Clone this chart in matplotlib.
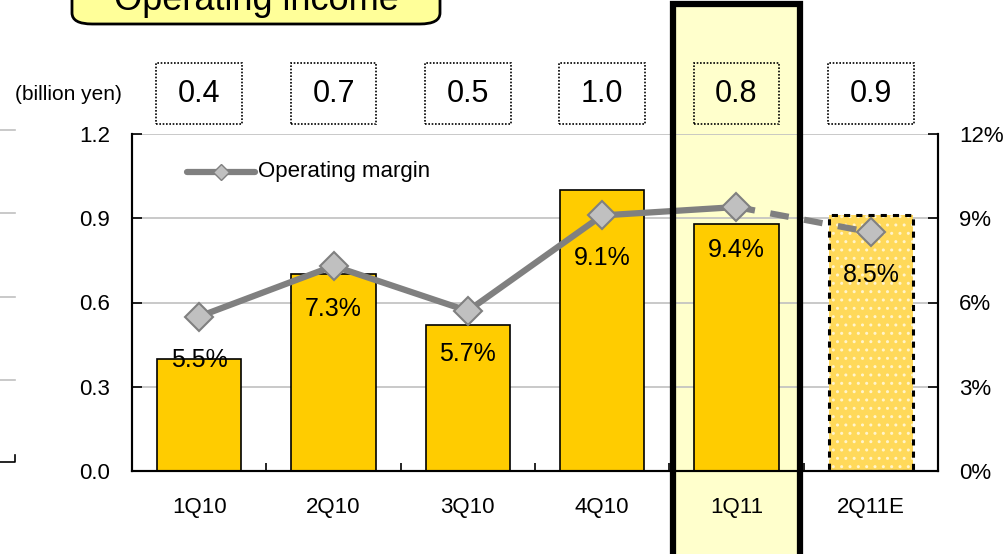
import matplotlib
matplotlib.use("Agg")
from matplotlib import pyplot as plt
from matplotlib.patches import Rectangle, FancyBboxPatch
from matplotlib.lines import Line2D
from matplotlib.transforms import blended_transform_factory

plt.rcParams['font.family'] = ['Liberation Sans', 'DejaVu Sans']

quarters = ["1Q10", "2Q10", "3Q10", "4Q10", "1Q11", "2Q11E"]
income = [0.40, 0.70, 0.52, 1.00, 0.88, 0.91]
income_labels = ["0.4", "0.7", "0.5", "1.0", "0.8", "0.9"]
margin = [5.5, 7.3, 5.7, 9.1, 9.4, 8.5]
margin_labels = ["5.5%", "7.3%", "5.7%", "9.1%", "9.4%", "8.5%"]
left_ticks = [0.0, 0.3, 0.6, 0.9, 1.2]
right_ticks = [0, 3, 6, 9, 12]

W, H = 1007, 554
fig = plt.figure(figsize=(W / 100, H / 100), dpi=100)
ax = fig.add_axes([132 / W, (H - 471) / H, 806 / W, 337 / H])
ax.set_facecolor("none")
ax2 = ax.twinx()

x = list(range(len(quarters)))
n_act = len(quarters) - 1

# highlight column for the latest quarter
bt = blended_transform_factory(ax.transData, ax.transAxes)
ax.add_patch(Rectangle((4 - 0.475, -0.4), 0.95, 1.785, transform=bt,
                       facecolor="#ffffcc", edgecolor="none", zorder=0.2, clip_on=False))
ax2.add_patch(Rectangle((4 - 0.475, -0.4), 0.95, 1.785, transform=bt,
                        facecolor="none", edgecolor="black", lw=4.5, zorder=10, clip_on=False))

ax.set_axisbelow(True)
ax.bar(x[:n_act], income[:n_act], width=0.63, color="#ffcc00", edgecolor="black", lw=1.2, zorder=2)
ax.bar(x[n_act], income[n_act], width=0.63, color="#ffd95a", edgecolor="#fff4cc", lw=0,
       hatch="..", zorder=2)
ax.bar(x[n_act], income[n_act], width=0.63, color="none", edgecolor="black", lw=2.2,
       linestyle=(0, (2, 2)), zorder=2.1)

ax.set_xlim(-0.5, 5.5)
ax.set_ylim(0, 1.2)
ax.set_yticks(left_ticks)
ax.set_yticklabels([f"{t:.1f}" for t in left_ticks])
ax.grid(axis="y", color="#c0c0c0", lw=1.2)
ax.set_xticks(x)
ax.set_xticklabels(quarters)
ax.set_xticks([i + 0.5 for i in range(-1, 6)], minor=True)
ax.tick_params(axis="x", which="major", length=0, pad=19, labelsize=16)
ax.tick_params(axis="x", which="minor", length=6, direction="in", width=1.2)
ax.tick_params(axis="y", length=7, direction="in", width=1.2, labelsize=16, pad=16)

ax2.set_ylim(0, 12)
ax2.set_yticks(right_ticks)
ax2.set_yticklabels([f"{t}%" for t in right_ticks])
ax2.tick_params(axis="y", length=7, direction="in", width=1.2, labelsize=16, pad=15)
for a in (ax, ax2):
    for s in a.spines.values():
        s.set_linewidth(1.5)
    a.spines["top"].set_visible(False)

# operating margin line
ax2.plot(x[:n_act], margin[:n_act], color="#808080", lw=4.5, zorder=5)
ax2.plot(x[n_act - 1:], margin[n_act - 1:], color="#808080", lw=4.5, ls=(0, (3, 2.5)), zorder=5)
ax2.plot(x, margin, ls="none", marker="D", ms=14, mfc="#c0c0c0", mec="#808080", mew=1.5, zorder=6)
for xi, m, lab in zip(x, margin, margin_labels):
    ax2.annotate(lab, (xi, m), xytext=(0, -31), textcoords="offset points",
                 ha="center", va="center", fontsize=18, zorder=7)

# legend sample
lt = ax.transAxes
ax2.add_line(Line2D([(187 - 132) / 806, (255 - 132) / 806], [(471 - 172) / 337] * 2, transform=lt,
                    color="#808080", lw=4.5, zorder=6, solid_capstyle="round"))
ax2.plot([(221 - 132) / 806], [(471 - 172) / 337], transform=lt, marker="D", ms=8,
         mfc="#c0c0c0", mec="#808080", mew=1, zorder=7)
ax2.text((258 - 132) / 806, (471 - 172) / 337, "Operating margin", transform=lt,
         fontsize=16, va="center", ha="left")

# value boxes above each quarter
for xi, lab in zip(x, income_labels):
    ax.add_patch(Rectangle((xi - 0.32, 1.030), 0.64, 0.181, transform=bt, facecolor="none",
                           edgecolor="black", lw=1.2, ls=(0, (1, 1)), clip_on=False, zorder=3))
    ax.text(xi, 1.12, lab, transform=bt, ha="center", va="center", fontsize=22)

fig.text(15 / W, 1 - 95 / H, "(billion yen)", fontsize=15, va="center", ha="left")

# title box (cut off at top)
fig.patches.append(FancyBboxPatch((72 / W, 1 - 24 / H), 368 / W, 60 / H, transform=fig.transFigure,
                                  boxstyle="round,pad=0,rounding_size=0.02", facecolor="#ffff99",
                                  edgecolor="black", lw=2))
fig.text(256 / W, 1 - 1 / H, "Operating income", fontsize=26, ha="center", va="center")

# fragments of the neighbouring chart at the left edge
for yy in [130, 213, 297, 380]:
    fig.lines.append(Line2D([0, 15 / W], [1 - yy / H] * 2, transform=fig.transFigure,
                            color="#c0c0c0", lw=1.2))
fig.lines.append(Line2D([0, 15 / W, 15 / W], [1 - 462 / H, 1 - 462 / H, 1 - 455 / H],
                        transform=fig.transFigure, color="black", lw=1.2))

fig.savefig("out.png", dpi=100)
